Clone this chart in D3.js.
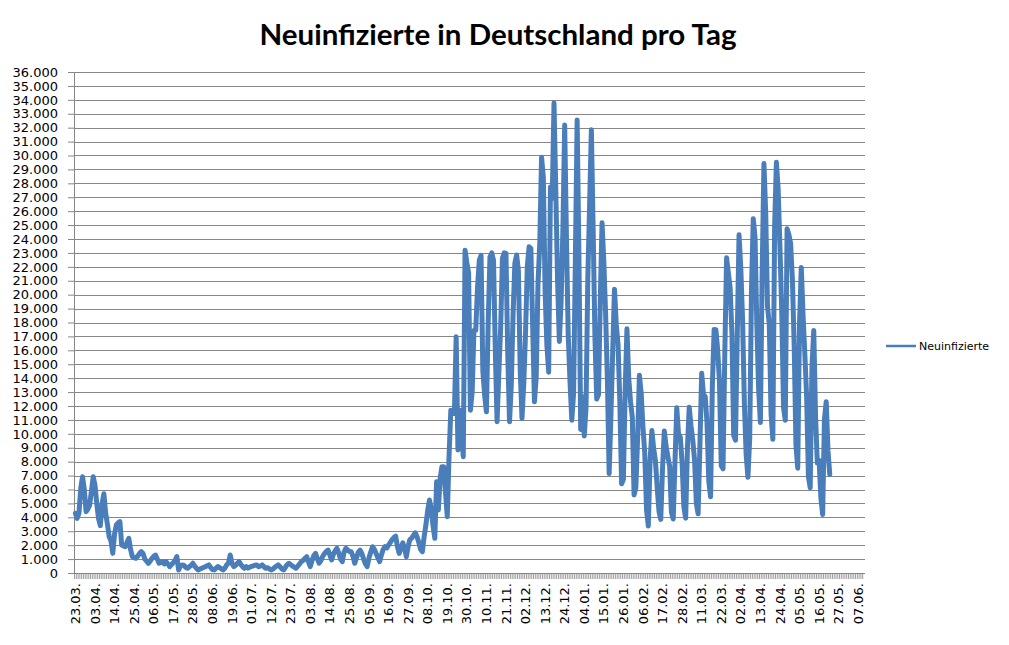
<!DOCTYPE html>
<html>
<head>
<meta charset="utf-8">
<script src="https://cdn.jsdelivr.net/npm/d3@7"></script>
<style>
  body { margin: 0; background: #fff; }
  svg { display: block; }
</style>
</head>
<body>
<div id="chart"></div>
<script>
// daily new infections, 23.03.2020 .. 22.05.2021 (28.06.2020 missing in the source sheet)
const neuinfizierte = [
  // Mar/Apr 2020
  4290, 3930, 4300, 6100, 6920, 6000, 4410,
  4600, 4880, 5900, 6920, 6300, 5000, 3900,
  3400, 5000, 5700, 4300, 3500, 2600, 2300,
  1410, 2800, 3450, 3600, 3690, 2010, 1950,
  1890, 2200, 2490, 1700, 1180, 1100, 1060,
  // May
  1200, 1400, 1540, 1400, 1000, 850, 700,
  850, 1050, 1200, 1290, 1000, 700, 750,
  820, 650, 810, 650, 460, 600, 750,
  900, 1180, 220, 500, 580, 550, 400,
  // June
  340, 450, 550, 700, 500, 350, 220,
  280, 340, 400, 450, 520, 580, 400,
  250, 220, 350, 460, 400, 300, 220,
  350, 580, 700, 1290, 700, 460, 550,
  700, 820, 600, 450, 340, 460,
  // 29.06. ..
  350, 420, 480, 520, 560, 580, 450,
  500, 580, 450, 340, 380, 300, 220,
  280, 400, 500, 580, 450, 300, 220,
  400, 600, 700, 600, 500, 420, 340,
  // Aug
  500, 650, 820, 900, 1050, 1170, 800,
  460, 900, 1250, 1410, 1000, 700, 900,
  1200, 1400, 1550, 1650, 1300, 940, 1350,
  1600, 1770, 1450, 1000, 820, 1500, 1770,
  1650, 1550, 1530, 1200, 700, 1100, 1500,
  // Sep
  1650, 1400, 1000, 650, 460, 1100, 1500,
  1890, 1700, 1400, 1100, 820, 1300, 1700,
  1890, 1800, 2000, 2200, 2400, 2550, 2650,
  1900, 1410, 1800, 2170, 1800, 1170, 1900,
  2410, 2500, 2700,
  // Oct
  2890, 2600, 2200, 1700, 1530, 2600, 3450,
  4500, 5240, 4600, 3400, 2490, 6560, 4530,
  6800, 7640, 7640, 5800, 4050, 8360, 11700,
  11600, 11470, 16970, 8840, 11700, 10000, 8360,
  23200, 22300, 21560,
  // Nov
  11700, 13000, 17430, 17430, 20500, 22460, 22820,
  14510, 12800, 11580, 18000, 22700, 23000, 22460,
  16000, 10870, 14419, 17561, 22609, 23000, 22964,
  15741, 10864, 13554, 18633, 22268, 22850, 21695,
  14611, 11110,
  // Dec
  13604, 17270, 22046, 23449, 23318, 17767, 12300,
  14054, 20815, 23679, 29875, 28438, 20200, 16362,
  14432, 27728, 26923, 33777, 27500, 21000, 16643,
  19528, 24740, 32195, 24000, 17000, 13755, 10976,
  12892, 22459, 32552,
  // Jan 2021
  22924, 10315, 12690, 9847, 11897, 21237, 26391,
  31849, 24694, 16946, 12497, 12802, 19600, 25164,
  22368, 18678, 13882, 7141, 11369, 15974, 20398,
  17862, 16417, 12257, 6408, 6729, 13202, 17553,
  14022, 12321, 11192,
  // Feb
  5608, 6114, 9705, 14211, 12908, 10485, 8616,
  4535, 3379, 8072, 10237, 8956, 8071, 6114,
  4426, 3856, 7556, 10207, 9113, 8354, 7676,
  4369, 3883, 8007, 11869, 9997, 9762, 7890,
  // Mar
  4732, 3943, 9019, 11912, 10580, 9557, 8103,
  5011, 4252, 9146, 14356, 12834, 12674, 10790,
  6604, 5480, 13435, 17504, 17482, 16033, 13733,
  7709, 7485, 15813, 22657, 21573, 20472, 17176,
  9872, 9549, 17051,
  // Apr
  24300, 21888, 18129, 12196, 8497, 6885, 9677,
  20407, 25464, 24097, 17855, 13245, 10810, 21693,
  29426, 25831, 19185, 17855, 11437, 9609, 24884,
  29518, 27543, 23392, 18773, 11907, 10976, 24736,
  24329, 23681,
  // May
  21058, 16290, 9160, 7534, 18034, 21953, 18485,
  15685, 12656, 6922, 6125, 14909, 17419, 11336,
  7900, 8100, 5412, 4209, 11040, 12298, 8769,
  7082
];

// category labels shown on the x axis (every 11th day)
const tickLabels = [
  "23.03.", "03.04.", "14.04.", "25.04.", "06.05.", "17.05.", "28.05.", "08.06.",
  "19.06.", "01.07.", "12.07.", "23.07.", "03.08.", "14.08.", "25.08.", "05.09.",
  "16.09.", "27.09.", "08.10.", "19.10.", "30.10.", "10.11.", "21.11.", "02.12.",
  "13.12.", "24.12.", "04.01.", "15.01.", "26.01.", "06.02.", "17.02.", "28.02.",
  "11.03.", "22.03.", "02.04.", "13.04.", "24.04.", "05.05.", "16.05.", "27.05.",
  "07.06."
];

const yTicks = d3.range(0, 36001, 1000);
const seriesName = "Neuinfizierte";
const titleText = "Neuinfizierte in Deutschland pro Tag";

// categories: one per day, the sheet runs on to 10.06.2021 and skips 28.06.2020
const skipped = "28.06.2020";
const fmtDay = d3.timeFormat("%d.%m.%Y");
const categories = d3.timeDay
  .range(new Date(2020, 2, 23), new Date(2021, 5, 11))
  .map((d) => fmtDay(d))
  .filter((d) => d !== skipped);

const blue = "#4a7ebb";
const gridGrey = "#868686";

let dimensions = {
  width: 1009,
  height: 645,
  margin: { top: 72, right: 144, bottom: 72, left: 74 },
};
dimensions.boundedWidth =
  dimensions.width - dimensions.margin.left - dimensions.margin.right;
dimensions.boundedHeight =
  dimensions.height - dimensions.margin.top - dimensions.margin.bottom;

const de = d3.formatLocale({ decimal: ",", thousands: ".", grouping: [3], currency: ["", " €"] });
const fmtNum = de.format(",d");

const wrapper = d3
  .select("#chart")
  .append("svg")
  .attr("width", dimensions.width)
  .attr("height", dimensions.height)
  .style("font-family", "'DejaVu Sans', Verdana, sans-serif");

wrapper.append("rect")
  .attr("width", dimensions.width)
  .attr("height", dimensions.height)
  .attr("fill", "#fff");

const bounds = wrapper
  .append("g")
  .attr("transform", `translate(${dimensions.margin.left},${dimensions.margin.top})`);

// scales
const xScale = d3
  .scaleBand()
  .domain(categories)
  .range([0, dimensions.boundedWidth])
  .paddingInner(0)
  .paddingOuter(0.3);

const yScale = d3
  .scaleLinear()
  .domain([0, 36000])
  .range([dimensions.boundedHeight, 0]);

// gridlines
bounds.append("g")
  .selectAll("line")
  .data(yTicks)
  .join("line")
  .attr("x1", 0)
  .attr("x2", dimensions.boundedWidth)
  .attr("y1", (d) => Math.round(yScale(d)) + 0.5)
  .attr("y2", (d) => Math.round(yScale(d)) + 0.5)
  .attr("stroke", gridGrey)
  .attr("stroke-width", 1);

// y axis
const yAxisGenerator = d3.axisLeft(yScale)
  .tickValues(yTicks)
  .tickFormat(fmtNum)
  .tickSize(6)
  .tickPadding(10);

const yAxis = bounds.append("g").call(yAxisGenerator);
yAxis.select(".domain").attr("stroke", gridGrey);
yAxis.selectAll(".tick line").attr("stroke", gridGrey);
yAxis.selectAll(".tick text")
  .attr("fill", "#000")
  .style("font-size", "13px")
  .style("font-family", "'DejaVu Sans', Verdana, sans-serif");

// x axis: a tick at every category border, label every 11th day
const xAxis = bounds.append("g")
  .attr("transform", `translate(0,${dimensions.boundedHeight})`);

xAxis.append("line")
  .attr("x1", 0)
  .attr("x2", dimensions.boundedWidth)
  .attr("y1", 0.5)
  .attr("y2", 0.5)
  .attr("stroke", gridGrey);

xAxis.selectAll(".cat-tick")
  .data(categories)
  .join("line")
  .attr("class", "cat-tick")
  .attr("x1", (d) => xScale(d))
  .attr("x2", (d) => xScale(d))
  .attr("y1", 0)
  .attr("y2", 6)
  .attr("stroke", gridGrey)
  .attr("stroke-width", 0.8);

const labelled = categories.filter((d, i) => i % 11 === 0).slice(0, tickLabels.length);

xAxis.selectAll(".cat-label")
  .data(labelled)
  .join("text")
  .attr("class", "cat-label")
  .attr("transform", (d) => `translate(${xScale(d) + xScale.bandwidth() / 2},10) rotate(-90)`)
  .attr("text-anchor", "end")
  .attr("dy", "0.35em")
  .attr("fill", "#000")
  .style("font-size", "13px")
  .text((d, i) => tickLabels[i]);

// the line
const lineGenerator = d3.line()
  .x((d, i) => xScale(categories[i]) + xScale.bandwidth() / 2)
  .y((d) => yScale(d));

bounds.append("path")
  .datum(neuinfizierte)
  .attr("d", lineGenerator)
  .attr("fill", "none")
  .attr("stroke", blue)
  .attr("stroke-width", 5)
  .attr("stroke-linejoin", "round")
  .attr("stroke-linecap", "round");

// legend
const legend = wrapper.append("g").attr("transform", "translate(886,346)");
legend.append("line")
  .attr("x1", 0)
  .attr("x2", 30)
  .attr("stroke", blue)
  .attr("stroke-width", 2.5);
legend.append("text")
  .attr("x", 33)
  .attr("dy", "0.35em")
  .style("font-size", "11px")
  .attr("fill", "#000")
  .text(seriesName);

// title
wrapper.append("text")
  .attr("x", 498)
  .attr("y", 45)
  .attr("text-anchor", "middle")
  .attr("textLength", 477)
  .attr("lengthAdjust", "spacingAndGlyphs")
  .style("font-family", "Lato, 'Open Sans', sans-serif")
  .style("font-weight", "bold")
  .style("font-size", "29px")
  .text(titleText);
</script>
</body>
</html>
